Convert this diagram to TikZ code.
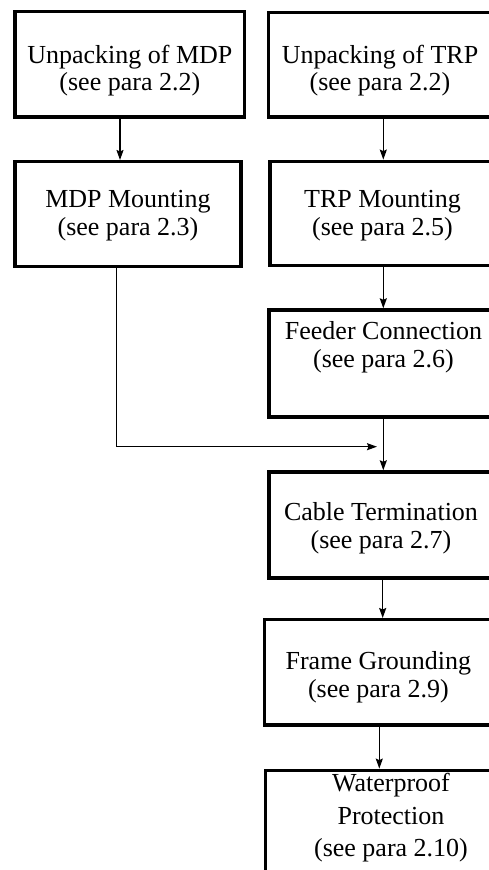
\documentclass[tikz,border=0pt]{standalone}
\usepackage{fontspec}
\setmainfont{Liberation Serif}
\usetikzlibrary{arrows.meta}

% Centred lines whose baseline is that of the first line
\newcommand{\steplines}[1]{\begin{tabular}[t]{@{}c@{}}#1\end{tabular}}

\begin{document}
\begin{tikzpicture}[x=1pt, y=-1pt,
  stepbox/.style={draw, line width=3.4pt, inner sep=0pt, anchor=base,
                  font=\fontsize{26}{28}\selectfont},
  flow/.style={line width=1.5pt, -{Stealth[length=10pt, width=7pt, inset=1.5pt]}}]

  \useasboundingbox (0,0) rectangle (489,870);
  \fill[white] (0,0) rectangle (489,870);
  \clip (0,0) rectangle (489,870);

  % columns of the connectors
  \coordinate (colA) at (120,0);
  \coordinate (colB) at (116.7,0);
  \coordinate (colR) at (383.3,0);
  \coordinate (colF) at (382.7,0);
  \coordinate (colG) at (379.3,0);
  \coordinate (merge) at (377,446.7);

  % left column
  \node[stepbox, minimum width=229.7pt, text height=51.3pt, text depth=54pt]
    (A) at (129.85,63) {\steplines{Unpacking of MDP\\(see para 2.2)}};
  \node[stepbox, minimum width=226pt, text height=45.6pt, text depth=59.4pt]
    (B) at (128,207.3) {\steplines{MDP Mounting\\(see para 2.3)}};

  % right column
  \node[stepbox, minimum width=222.6pt, text height=50.3pt, text depth=54pt]
    (C) at (380,63) {\steplines{Unpacking of TRP\\(see para 2.2)}};
  \node[stepbox, minimum width=225pt, text height=46pt, text depth=58pt]
    (D) at (382.5,207.3) {\steplines{TRP Mounting\\(see para 2.5)}};
  \node[stepbox, minimum width=229pt, text height=29pt, text depth=78pt]
    (E) at (383.5,339) {\steplines{Feeder Connection\\(see para 2.6)}};
  \node[stepbox, minimum width=224pt, text height=48pt, text depth=58pt]
    (F) at (381,520) {\steplines{Cable Termination\\(see para 2.7)}};
  \node[stepbox, minimum width=227.4pt, text height=49.8pt, text depth=55.5pt]
    (G) at (378.4,669.5) {\steplines{Frame Grounding\\(see para 2.9)}};
  \node[stepbox, minimum width=251pt, text height=21.4pt, text depth=110pt,
        font=\fontsize{26}{32.5}\selectfont]
    (H) at (391,791.7) {\steplines{Waterproof\\Protection\\(see para 2.10)}};

  % connectors
  \draw[flow] (A.south -| colA) -- (B.north -| colA);
  \draw[flow] (C.south -| colR) -- (D.north -| colR);
  \draw[flow] (D.south -| colR) -- (E.north -| colR);
  \draw[flow] (E.south -| colR) -- (F.north -| colR);
  \draw[flow] (F.south -| colF) -- (G.north -| colF);
  \draw[flow] (G.south -| colG) -- (H.north -| colG);
  \draw[flow] (B.south -| colB) |- (merge);
\end{tikzpicture}
\end{document}
